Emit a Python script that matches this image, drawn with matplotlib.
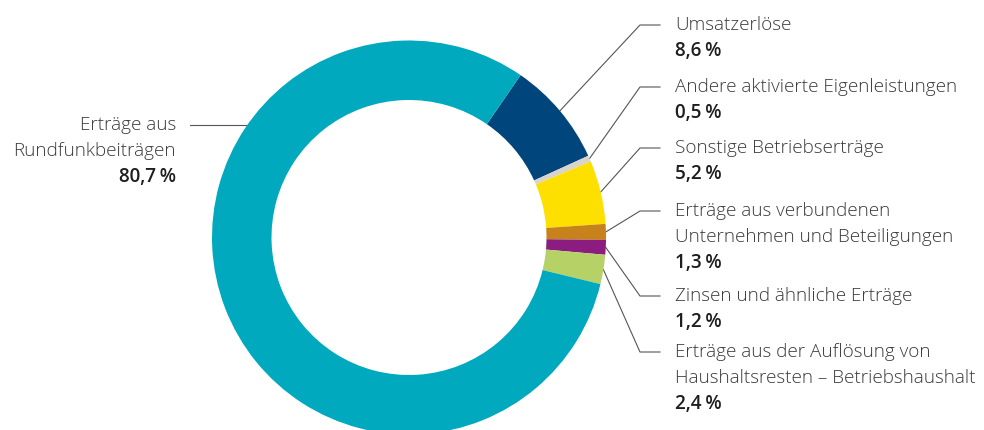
import numpy as np
import matplotlib
matplotlib.use('Agg')
import matplotlib.pyplot as plt

plt.rcParams['font.family'] = ['Open Sans', 'DejaVu Sans']

# --- Daten ---
namen = [
    'Umsatzerlöse',
    'Andere aktivierte Eigenleistungen',
    'Sonstige Betriebserträge',
    'Erträge aus verbundenen\nUnternehmen und Beteiligungen',
    'Zinsen und ähnliche Erträge',
    'Erträge aus der Auflösung von\nHaushaltsresten – Betriebshaushalt',
    'Erträge aus\nRundfunkbeiträgen',
]
anteile = [8.6, 0.5, 5.2, 1.3, 1.2, 2.4, 80.7]
etiketten = ['8,6\u2009%', '0,5\u2009%', '5,2\u2009%', '1,3\u2009%', '1,2\u2009%', '2,4\u2009%', '80,7\u2009%']
farben = ['#00457c', '#d9d3cc', '#fde000', '#c8821c', '#8c1d80', '#b6d266', '#00a9bd']

# --- Layout (Pixel, y nach oben) ---
W, H = 984, 430
cx, cy = 409, H - 237.5
r_aussen = 197
ring = 59.5
start = 55.5

# y-Position der ersten Textzeile (von oben gemessen) fuer die Beschriftungen rechts
text_y_oben = [25, 87, 148, 211, 296, 352]
zeile = 26
text_x = 675
knick_x = 640
linie_farbe = '#555555'
text_farbe = '#3a3a3a'
fs = 13.6

fig = plt.figure(figsize=(W / 100, H / 100), dpi=100)
ax = fig.add_axes([0, 0, 1, 1])

wedges, _ = ax.pie(anteile, colors=farben, startangle=start, counterclock=False,
                   center=(cx, cy), radius=r_aussen,
                   wedgeprops=dict(width=ring, linewidth=0))

ax.set_xlim(0, W)
ax.set_ylim(0, H)
ax.set_aspect('equal')
ax.axis('off')

# rechte Beschriftungen
for i in range(6):
    w = wedges[i]
    mitte = np.deg2rad((w.theta1 + w.theta2) / 2)
    ax_pt = (cx + r_aussen * np.cos(mitte), cy + r_aussen * np.sin(mitte))
    y0 = H - text_y_oben[i]
    ax.plot([ax_pt[0], knick_x, text_x - 15], [ax_pt[1], y0, y0],
            color=linie_farbe, lw=0.8, zorder=0)
    zeilen = namen[i].split('\n')
    for k, z in enumerate(zeilen):
        ax.text(text_x, y0 - k * zeile, z, fontsize=fs, color=text_farbe,
                fontweight='light', ha='left', va='center')
    ax.text(text_x, y0 - len(zeilen) * zeile, etiketten[i], fontsize=fs,
            fontweight='semibold', color='#1e1e1e', ha='left', va='center')

# linke Beschriftung (Rundfunkbeiträge)
y0 = H - 125
dy = y0 - cy
x_rand = cx - np.sqrt(r_aussen ** 2 - dy ** 2)
ax.plot([190, x_rand + 2], [y0, y0], color=linie_farbe, lw=0.8, zorder=0)
zeilen = namen[6].split('\n')
for k, z in enumerate(zeilen):
    ax.text(176, y0 - k * zeile, z, fontsize=fs, color=text_farbe,
            fontweight='light', ha='right', va='center')
ax.text(176, y0 - len(zeilen) * zeile, etiketten[6], fontsize=fs,
        fontweight='semibold', color='#1e1e1e', ha='right', va='center')

fig.savefig('out.png', dpi=100)
